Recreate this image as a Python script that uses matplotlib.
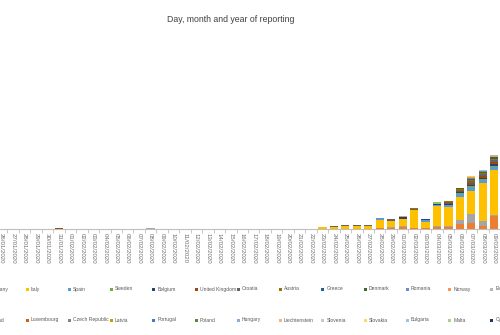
import matplotlib
matplotlib.use("Agg")
import matplotlib.pyplot as plt
from matplotlib.patches import Rectangle
import numpy as np
import pandas as pd

plt.rcParams['font.family'] = ['Liberation Sans', 'DejaVu Sans']

# ---- categories ----
dates = [d.strftime("%d/%m/%Y") for d in pd.date_range("2020-01-26", "2020-03-09")]

late_dates = ["23/02/2020", "24/02/2020", "25/02/2020", "26/02/2020", "27/02/2020",
              "28/02/2020", "29/02/2020", "01/03/2020", "02/03/2020", "03/03/2020",
              "04/03/2020", "05/03/2020", "06/03/2020", "07/03/2020", "08/03/2020",
              "09/03/2020"]
early_dates = ["31/01/2020", "08/02/2020"]

# ---- series values (cases reported per day) ----
finland     = [0, 0, 0, 0, 0, 0, 0, 0, 0, 0, 0, 0, 0, 0, 0, 0]
france      = [0, 0, 0, 0, 16, 42, 22, 54, 42, 32, 54, 74, 160, 192, 96, 416]
germany     = [0, 0, 0, 0, 0, 0, 32, 54, 0, 0, 42, 32, 128, 288, 160, 32]
italy       = [54, 58, 102, 106, 80, 256, 214, 224, 566, 192, 656, 608, 736, 736, 1216, 1440]
spain       = [0, 0, 0, 0, 0, 54, 0, 0, 0, 64, 32, 48, 96, 128, 96, 112]
sweden      = [0, 0, 0, 0, 0, 0, 0, 0, 0, 0, 0, 0, 26, 32, 32, 32]
belgium     = [0, 0, 0, 0, 0, 0, 0, 42, 0, 32, 16, 26, 38, 48, 48, 48]
uk          = [0, 0, 0, 0, 0, 0, 0, 0, 0, 0, 0, 38, 48, 64, 64, 80]
croatia     = [0, 32, 26, 22, 26, 0, 54, 0, 38, 0, 0, 32, 32, 48, 48, 48]
austria     = [0, 0, 0, 0, 0, 0, 0, 0, 36, 0, 0, 26, 26, 32, 32, 48]
greece      = [0, 0, 0, 0, 0, 0, 0, 0, 0, 0, 0, 0, 0, 16, 16, 16]
denmark     = [0, 0, 0, 0, 0, 0, 0, 0, 0, 0, 0, 0, 16, 32, 22, 32]
romania     = [0, 0, 0, 0, 0, 0, 0, 0, 0, 0, 0, 0, 0, 16, 16, 16]
norway      = [0, 0, 0, 0, 0, 0, 0, 54, 0, 0, 0, 22, 16, 32, 26, 32]
estonia     = [0, 0, 0, 0, 0, 0, 0, 0, 0, 0, 0, 0, 0, 16, 10, 16]
netherlands = [0, 0, 0, 0, 0, 0, 0, 0, 0, 0, 0, 0, 0, 16, 0, 16]
lithuania   = [0, 0, 0, 0, 0, 0, 0, 0, 0, 0, 0, 0, 0, 0, 0, 0]
iceland     = [0, 0, 0, 0, 0, 0, 0, 0, 0, 0, 74, 0, 0, 0, 0, 0]

early_uk      = [32, 0]
early_germany = [0, 24]

names = ["Finland", "France", "Germany", "Italy", "Spain", "Sweden", "Belgium",
         "United Kingdom", "Croatia", "Austria", "Greece", "Denmark", "Romania",
         "Norway", "Estonia", "Netherlands", "Lithuania", "Iceland", "Ireland",
         "Luxembourg", "Czech Republic", "Latvia", "Portugal", "Poland", "Hungary",
         "Liechtenstein", "Slovenia", "Slovakia", "Bulgaria", "Malta", "Cyprus"]
colors = ["#4472C4", "#ED7D31", "#A5A5A5", "#FFC000", "#5B9BD5", "#70AD47",
          "#264478", "#9E480E", "#636363", "#997300", "#255E91", "#43682B",
          "#698ED0", "#F1975A", "#B7B7B7", "#FFCD33", "#7CAFDD", "#8CC168",
          "#335AA1", "#D26012", "#848484", "#CC9A00", "#3C7DC4", "#5A8A39",
          "#8FAADC", "#F4B183", "#C9C9C9", "#FFD966", "#9DC3E6", "#A9D18E",
          "#203864"]
late_series = {"Finland": finland, "France": france, "Germany": germany, "Italy": italy,
               "Spain": spain, "Sweden": sweden, "Belgium": belgium,
               "United Kingdom": uk, "Croatia": croatia, "Austria": austria,
               "Greece": greece, "Denmark": denmark, "Romania": romania,
               "Norway": norway, "Estonia": estonia, "Netherlands": netherlands,
               "Lithuania": lithuania, "Iceland": iceland}
early_series = {"United Kingdom": early_uk, "Germany": early_germany}

# ---- assemble full-length series ----
n = len(dates)
full = {}
for name in names:
    arr = np.zeros(n)
    if name in late_series:
        for d, v in zip(late_dates, late_series[name]):
            arr[dates.index(d)] = v
    if name in early_series:
        for d, v in zip(early_dates, early_series[name]):
            arr[dates.index(d)] = v
    full[name] = arr

W, H = 500, 335
fig = plt.figure(figsize=(W / 100, H / 100), dpi=100)
ax_bottom_px = 229
ax_top_px = 30
ax = fig.add_axes([0, (H - ax_bottom_px) / H, 1, (ax_bottom_px - ax_top_px) / H])

x = np.arange(n)
bottom = np.zeros(n)
for name, c in zip(names, colors):
    ax.bar(x, full[name], bottom=bottom, width=0.72, color=c, linewidth=0, zorder=2)
    bottom += full[name]

step = 11.5
x0 = 1.7
ax.set_xlim(-x0 / step, (W - x0) / step)
ax.set_ylim(0, (ax_bottom_px - ax_top_px) * 32)

for s in ["top", "left", "right"]:
    ax.spines[s].set_visible(False)
ax.spines["bottom"].set_color("#BFBFBF")
ax.spines["bottom"].set_linewidth(0.8)
ax.set_yticks([])

ax.set_xticks(x + 0.5)
ax.set_xticklabels([])
ax.tick_params(axis="x", which="major", length=3, width=0.6, color="#BFBFBF")
ax.set_xticks(x, minor=True)
ax.set_xticklabels(dates, minor=True, rotation=270, fontsize=4.4, color="#6F6F6F")
ax.tick_params(axis="x", which="minor", length=0, pad=3)

fig.text(231 / W, 1 - 19 / H, "Day, month and year of reporting", ha="center",
         va="center", fontsize=6.3, color="#404040")

# ---- legend (cropped, two rows of 16) ----
per_row = 16
spacing = 42.27
row_y = [289, 320]
for k, (name, c) in enumerate(zip(names, colors)):
    row = k // per_row
    col = k % per_row
    mx = 27 + (col - 3) * spacing
    my = row_y[row]
    fig.patches.append(Rectangle(((mx - 1.5) / W, (H - my - 1.5) / H), 3 / W, 3 / H,
                                 transform=fig.transFigure, facecolor=c,
                                 edgecolor="none"))
    fig.text((mx + 3.5) / W, 1 - my / H, name, ha="left", va="center",
             fontsize=3.6, color="#595959")

fig.savefig("out.png", dpi=100)
